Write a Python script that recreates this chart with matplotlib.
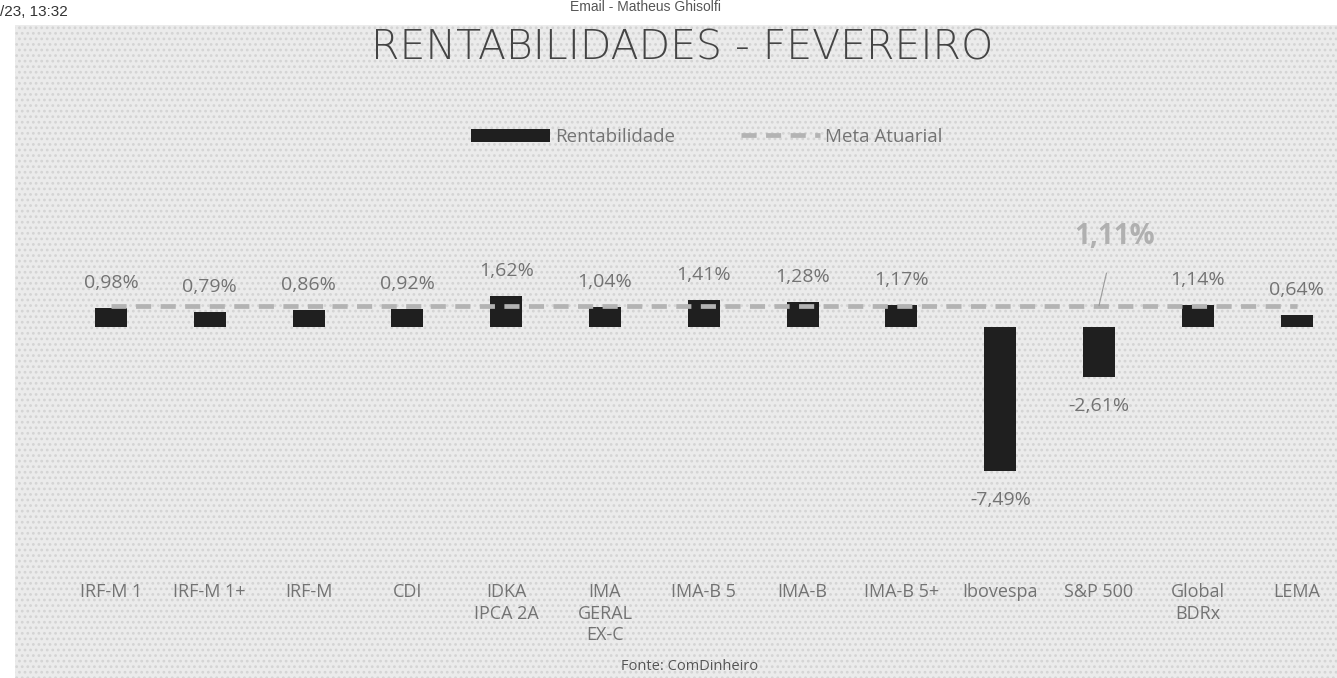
import matplotlib.pyplot as plt
from matplotlib.patches import Rectangle, Patch
from matplotlib.lines import Line2D

categories = [
    "IRF-M 1", "IRF-M 1+", "IRF-M", "CDI", "IDKA\nIPCA 2A", "IMA\nGERAL\nEX-C",
    "IMA-B 5", "IMA-B", "IMA-B 5+", "Ibovespa", "S&P 500", "Global\nBDRx", "LEMA",
]
rentabilidade = [0.98, 0.79, 0.86, 0.92, 1.62, 1.04, 1.41, 1.28, 1.17, -7.49, -2.61, 1.14, 0.64]
meta_atuarial = 1.11

BAR = "#1f1f1f"
TXT = "#737373"
META = "#b3b3b3"
BG = "#ebebeb"


def fmt(v):
    return f"{v:.2f}".replace(".", ",") + "%"


def main() -> None:
    W, H = 1337, 678
    fig = plt.figure(figsize=(W / 100, H / 100), dpi=100)
    fig.patch.set_facecolor("white")

    # grey printed panel with halftone dots
    plt.rcParams["hatch.linewidth"] = 1.2
    panel = Rectangle((15 / W, 0), 1 - 15 / W, 1 - 25 / H, transform=fig.transFigure,
                      facecolor=BG, edgecolor="#d4d4d4", hatch="...", linewidth=0, zorder=-10)
    fig.patches.append(panel)

    # browser print header
    fig.text(0, 1 - 12 / H, "/23, 13:32", fontsize=11, family="Liberation Sans",
             color="#333333", va="center", ha="left")
    fig.text(570 / W, 1 - 7 / H, "Email - Matheus Ghisolfi", fontsize=10,
             family="Liberation Sans", color="#555555", va="center", ha="left")

    # axes: px_x = 111 + 98.8*i, px_y = 327 - 19.2*v
    ax_bottom_px = 575
    ax = fig.add_axes([0, 1 - ax_bottom_px / H, 1, ax_bottom_px / H], zorder=1)
    ax.set_facecolor("none")
    step, scale, x0, y0 = 98.8, 19.2, 111, 327
    ax.set_xlim(-x0 / step, (W - x0) / step)
    ax.set_ylim((y0 - ax_bottom_px) / scale, y0 / scale)
    for s in ax.spines.values():
        s.set_visible(False)

    xs = list(range(len(categories)))
    ax.bar(xs, rentabilidade, width=32 / step, color=BAR, zorder=2)
    ax.plot(xs, [meta_atuarial] * len(xs), color=META, lw=3.4,
            dashes=(3.2, 2.0), dash_capstyle="butt", zorder=3)

    for x, v in zip(xs, rentabilidade):
        off = 18 if v >= 0 else -21
        ax.annotate(fmt(v), (x, v), xytext=(0, off), textcoords="offset points",
                    ha="center", va="center", fontsize=14, color=TXT, family="Open Sans")

    # meta label with leader line
    ax.annotate(fmt(meta_atuarial), xy=(10, meta_atuarial), xytext=(10.16, 4.7),
                ha="center", va="center", fontsize=20, fontweight="bold", color="#b0b0b0",
                family="Open Sans",
                arrowprops=dict(arrowstyle="-", color="#9a9a9a", lw=0.8, shrinkA=14, shrinkB=0))

    ax.set_xticks(xs)
    ax.set_xticklabels(categories, fontsize=13, color=TXT, family="Open Sans",
                       linespacing=1.25)
    ax.tick_params(axis="x", length=0, pad=6)
    ax.set_yticks([])

    handles = [
        Patch(facecolor=BAR, edgecolor="none", label="Rentabilidade"),
        Line2D([], [], color=META, lw=3.4, dashes=(3.2, 2.0), label="Meta Atuarial"),
    ]
    leg = fig.legend(handles=handles, loc="center", bbox_to_anchor=(707 / W, 1 - 137 / H),
                     ncol=2, frameon=False, handlelength=4.2,
                     handleheight=0.75, columnspacing=3.5, handletextpad=0.3,
                     prop={"family": "Open Sans", "size": 13.5})
    for t in leg.get_texts():
        t.set_color(TXT)

    fig.text(682 / W, 1 - 48 / H, "RENTABILIDADES - FEVEREIRO", fontsize=29.5,
             family="DejaVu Sans", fontweight=200, color="#444444", ha="center", va="center")
    fig.text(690 / W, 1 - 667 / H, "Fonte: ComDinheiro", fontsize=10.5,
             family="Open Sans", color="#555555", ha="center", va="center")

    fig.savefig("out.png", dpi=100, facecolor=fig.get_facecolor())


if __name__ == "__main__":
    main()
